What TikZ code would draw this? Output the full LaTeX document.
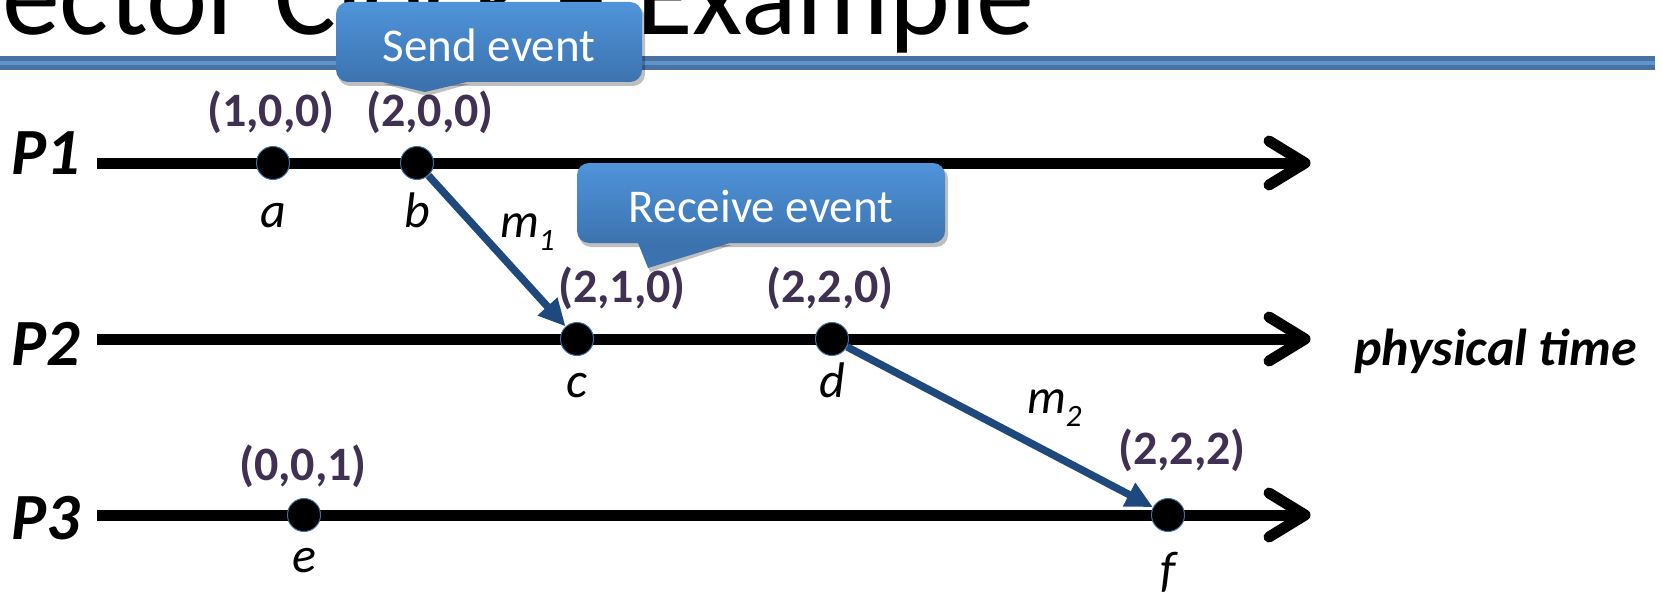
\documentclass[tikz,border=0pt]{standalone}
\usepackage{fontspec}
\setmainfont{Carlito}
\usetikzlibrary{arrows.meta}

\definecolor{vecpurple}{RGB}{64,49,82}
\definecolor{msgblue}{RGB}{31,73,125}
\definecolor{dotedge}{RGB}{65,113,156}
\definecolor{calltop}{RGB}{80,148,218}
\definecolor{callbot}{RGB}{60,115,175}
\definecolor{bardark}{RGB}{72,114,162}
\definecolor{barlight}{RGB}{95,146,206}

\begin{document}
\begin{tikzpicture}[x=1pt,y=-1pt,
  timeline/.style={line width=11pt, line cap=butt},
  chevron/.style={line width=11pt, line cap=round, line join=round},
  event/.style={circle, fill=black, draw=dotedge, line width=1pt, minimum size=33pt, inner sep=0pt},
  vec/.style={font=\fontsize{48}{48}\selectfont\bfseries, text=vecpurple, anchor=base, inner sep=0pt},
  evname/.style={font=\fontsize{50}{50}\selectfont\itshape, anchor=base, inner sep=0pt},
  proc/.style={font=\fontsize{66}{66}\selectfont\bfseries\itshape, anchor=base west, inner sep=0pt},
  mlabel/.style={font=\fontsize{49}{49}\selectfont\itshape, anchor=base west, inner sep=0pt},
  msg/.style={draw=msgblue, line width=7.5pt, -{Triangle[length=27pt,width=25pt]}},
  callbox/.style={rounded corners=12pt, top color=calltop, bottom color=callbot,
    text=white, font=\fontsize{47}{47}\selectfont, inner sep=0pt, minimum height=80pt},
  callshadow/.style={fill=black, opacity=0.25}
]
\useasboundingbox (0,0) rectangle (1662,599);

% slide title and header rule
\node[anchor=base west, inner sep=0pt, font=\fontsize{116}{116}\selectfont] (title) at (2,35) {ector Clock – Example};
\fill[bardark] (0,56) rectangle (1655,70);
\fill[barlight] (0,61.5) rectangle (1655,65);

% process time lines
\coordinate (s1) at (97,163);  \coordinate (t1) at (1305,163);
\coordinate (s2) at (97,339);  \coordinate (t2) at (1305,339);
\coordinate (s3) at (97,515);  \coordinate (t3) at (1305,515);
\foreach \k in {1,2,3}{
  \draw[timeline] (s\k) -- (t\k);
  \draw[chevron] (t\k) ++(-36,-22) -- (t\k) -- ++(-36,22);
}
\node[proc] (P1) at (11,174) {P1};
\node[proc] (P2) at (11,365) {P2};
\node[proc] (P3) at (11,539) {P3};
\node[font=\fontsize{52}{52}\selectfont\bfseries\itshape, anchor=base west, inner sep=0pt] (ptime) at (1354,365) {physical time};

% events
\node[event] (a) at (273,163) {};
\node[event] (b) at (417,163) {};
\node[event] (c) at (577,339) {};
\node[event] (d) at (832,339) {};
\node[event] (e) at (304,515) {};
\node[event] (f) at (1168,515) {};

\node[evname] (na) at (273,227) {a};
\node[evname] (nb) at (417,227) {b};
\node[evname] (nc) at (577,397) {c};
\node[evname] (nd) at (832,397) {d};
\node[evname] (ne) at (304,572) {e};
\node[evname] (nf) at (1168,586) {f};

% vector timestamps
\node[vec] (va) at (271,127) {(1,0,0)};
\node[vec] (vb) at (430,127) {(2,0,0)};
\node[vec] (vc) at (622,302) {(2,1,0)};
\node[vec] (vd) at (830,302) {(2,2,0)};
\node[vec] (ve) at (303,480) {(0,0,1)};
\node[vec] (vf) at (1182,464) {(2,2,2)};

% messages
\draw[msg] (b) -- (c);
\draw[msg] (d) -- (f);
\node[mlabel] (m1) at (500,237) {m\raisebox{-13pt}{\fontsize{31}{31}\selectfont 1}};
\node[mlabel] (m2) at (1027,413) {m\raisebox{-13pt}{\fontsize{31}{31}\selectfont 2}};

% callout: send event
\fill[callshadow, rounded corners=12pt] (338,6) rectangle (645,86);
\fill[callshadow] (384,84) -- (427,96) -- (469,84) -- cycle;
\fill[callbot] (382,74) -- (382,82) -- (425,92) -- (467,82) -- (467,74) -- cycle;
\node[callbox, minimum width=306pt, text height=40pt, text depth=0pt] (send) at (489,42) {Send event};

% callout: receive event
\fill[callshadow, rounded corners=12pt] (579,167) rectangle (948,247);
\fill[callshadow] (640,245) -- (650,272) -- (732,245) -- cycle;
\fill[callbot] (638,234) -- (638,243) -- (648,268) -- (730,243) -- (730,234) -- cycle;
\node[callbox, minimum width=368pt, text height=38pt, text depth=0pt] (recv) at (761,203) {Receive event};
\end{tikzpicture}
\end{document}
